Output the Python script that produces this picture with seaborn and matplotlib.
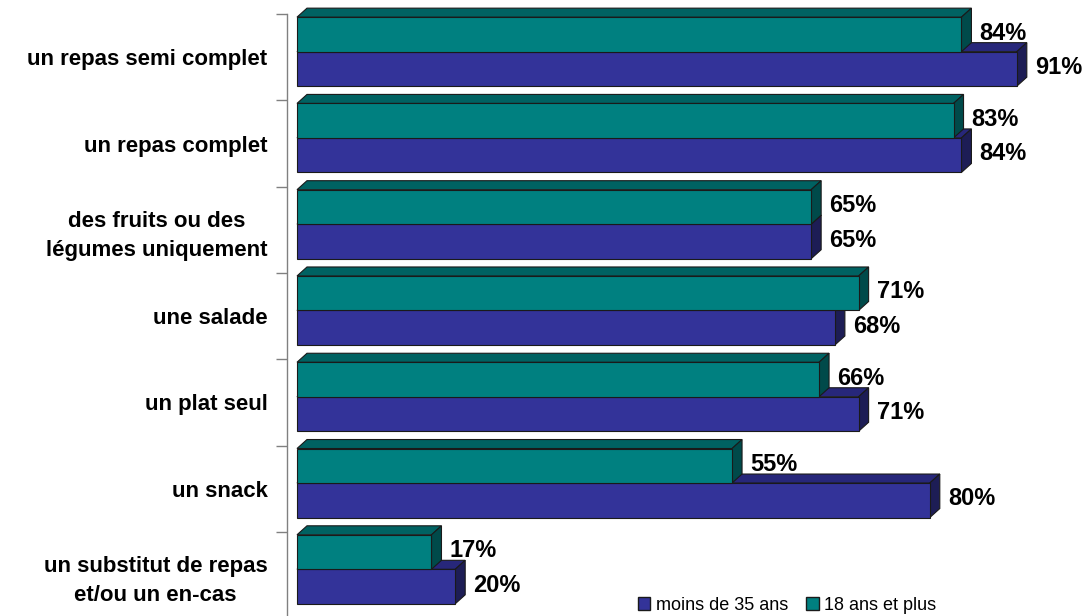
import matplotlib
matplotlib.use('Agg')
import matplotlib.pyplot as plt
from matplotlib.patches import Polygon, Patch
import numpy as np
import pandas as pd
import seaborn as sns

# data (percent)
categories = ["un repas semi complet", "un repas complet",
              "des fruits ou des\nlégumes uniquement", "une salade",
              "un plat seul", "un snack",
              "un substitut de repas\net/ou un en-cas"]
adults = [84, 83, 65, 71, 66, 55, 17]      # 18 ans et plus
young = [91, 84, 65, 68, 71, 80, 20]       # moins de 35 ans
series_names = ["18 ans et plus", "moins de 35 ans"]

teal, teal_top, teal_side = "#008080", "#006262", "#004a4a"
blue, blue_top, blue_side = "#333399", "#27277a", "#1d1d55"
edge = "#1a1a1a"

sns.set_style("white")
plt.rcParams['font.family'] = ['Liberation Sans', 'DejaVu Sans']
plt.rcParams['text.color'] = 'black'
plt.rcParams['ytick.labelcolor'] = 'black'

df = pd.DataFrame({
    'categorie': categories * 2,
    'groupe': [series_names[0]] * len(categories) + [series_names[1]] * len(categories),
    'pct': adults + young,
})

fig = plt.figure(figsize=(10.84, 6.16), dpi=100)
ax = fig.add_axes([287 / 1084, 0, 1 - 287 / 1084, 602 / 616])

sns.barplot(data=df, y='categorie', x='pct', hue='groupe', hue_order=series_names,
            palette=[teal, blue], saturation=1, orient='h', width=0.8, edgecolor=edge,
            linewidth=0.8, legend=False, ax=ax)

px_per_pct = 7.91
ax.set_xlim(-10 / px_per_pct, -10 / px_per_pct + 797 / px_per_pct)
shift = 0.4345
ax.set_ylim(-shift + 602 / 86.3, -shift - 0.002)

# depth of the 3D look: 10 px right, 9 px up
origin = ax.transData.transform((0, 0))
dx, dy = ax.transData.inverted().transform(origin + np.array([10, 9]))

styles = [(teal_top, teal_side, 3), (blue_top, blue_side, 2)]
for cont, (top_c, side_c, z) in zip(ax.containers, styles):
    for bar in cont.patches:
        x0, y0 = bar.get_x(), bar.get_y()
        w, h = bar.get_width(), bar.get_height()
        top = Polygon([(x0, y0), (x0 + dx, y0 + dy), (x0 + w + dx, y0 + dy), (x0 + w, y0)],
                      closed=True, facecolor=top_c, edgecolor=edge, linewidth=0.8,
                      zorder=z, clip_on=False)
        side = Polygon([(x0 + w, y0), (x0 + w + dx, y0 + dy), (x0 + w + dx, y0 + h + dy),
                        (x0 + w, y0 + h)],
                       closed=True, facecolor=side_c, edgecolor=edge, linewidth=0.8,
                       zorder=z, clip_on=False)
        ax.add_patch(top)
        ax.add_patch(side)
        bar.set_zorder(z + 0.2)
        ax.annotate(f"{w:.0f}%", xy=(x0 + w, y0 + h / 2), xytext=(13, 1),
                    textcoords='offset points', ha='left', va='center',
                    fontsize=17, fontweight='bold', color='black', zorder=5)

# category labels centred in their slot, ticks on slot boundaries
idx = np.arange(len(categories))
ax.set_yticks(idx + 0.5 - shift, categories)
ax.set_yticks(idx - shift, minor=True)
ax.tick_params(axis='y', which='major', left=True, length=0, pad=14, labelsize=16,
               labelcolor='black')
ax.tick_params(axis='y', which='minor', left=True, length=8, width=1, color='#808080',
               direction='out')
for t in ax.get_yticklabels():
    t.set_fontweight('bold')
    t.set_multialignment('center')
    t.set_linespacing(1.45)
ax.set_xticks([])
ax.set_xlabel('')
ax.set_ylabel('')

for s in ['top', 'right', 'bottom']:
    ax.spines[s].set_visible(False)
ax.spines['left'].set_color('#808080')
ax.spines['left'].set_linewidth(1)

handles = [Patch(facecolor=blue, edgecolor=edge, label=series_names[1]),
           Patch(facecolor=teal, edgecolor=edge, label=series_names[0])]
fig.legend(handles=handles, loc='center', bbox_to_anchor=(787 / 1084, 1 - 605 / 616),
           ncol=2, frameon=False, fontsize=13, handlelength=0.7, handleheight=0.7,
           handletextpad=0.3, columnspacing=1.0, borderaxespad=0)

fig.savefig('out.png', dpi=100)
